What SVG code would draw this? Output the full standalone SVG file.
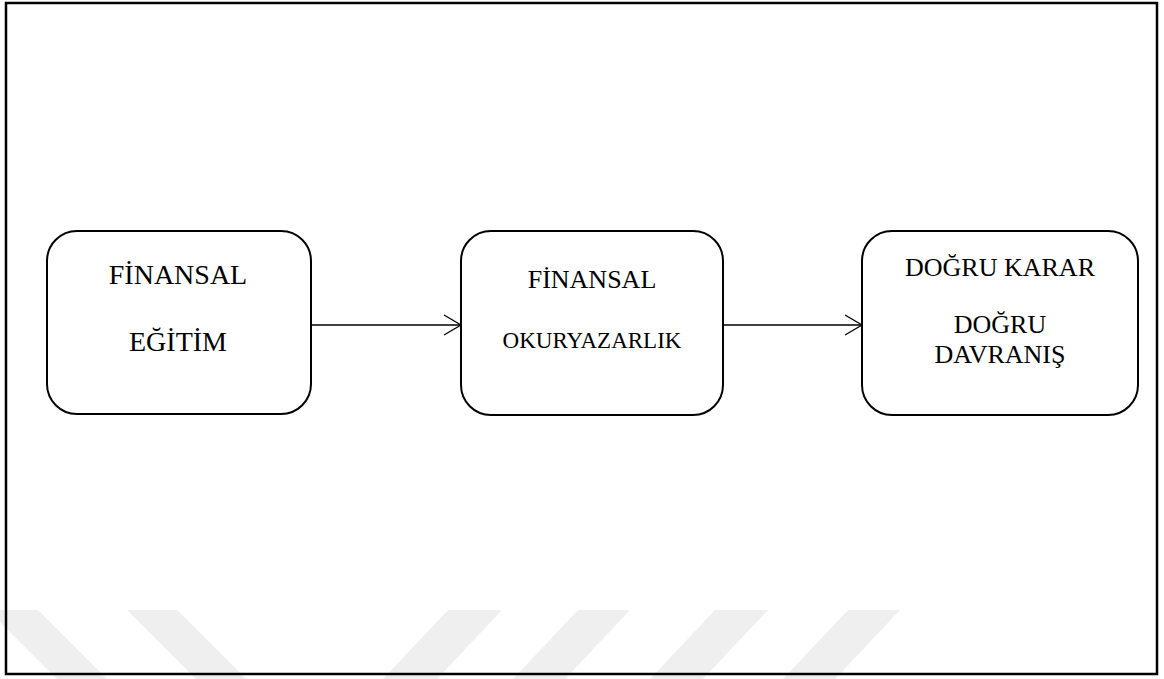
<svg xmlns="http://www.w3.org/2000/svg" width="1164" height="679" viewBox="0 0 1164 679">
  <defs>
    <style>
      .node { fill: #ffffff; stroke: #000000; stroke-width: 2; }
      .lbl { font-family: "Liberation Serif", "Times New Roman", serif; fill: #000000; text-anchor: middle; }
      .edge { stroke: #000000; stroke-width: 1.3; fill: none; }
      .wm { fill: #efefef; }
    </style>
    <marker id="open" markerWidth="20" markerHeight="22" refX="18" refY="11" orient="auto" markerUnits="userSpaceOnUse">
      <path d="M1,1 L18,11 L1,21" fill="none" stroke="#000" stroke-width="1.3"/>
    </marker>
  </defs>
  <rect x="0" y="0" width="1164" height="679" fill="#ffffff"/>
  <g id="watermark">
    <polygon class="wm" points="-12,610 38,610 107,679 57,679"/>
    <polygon class="wm" points="127,610 177,610 246,679 196,679"/>
    <polygon class="wm" points="448,610 502,610 437,679 383,679"/>
    <polygon class="wm" points="578,610 630,610 565,679 513,679"/>
    <polygon class="wm" points="715,610 768,610 703,679 650,679"/>
    <polygon class="wm" points="848,610 900,610 835,679 783,679"/>
  </g>
  <rect x="6" y="3" width="1151" height="671" fill="none" stroke="#000" stroke-width="2.5"/>
  <g id="connectors">
    <line class="edge" x1="311" y1="325" x2="461" y2="325" marker-end="url(#open)"/>
    <line class="edge" x1="723" y1="325" x2="862" y2="325" marker-end="url(#open)"/>
  </g>
  <g id="node-egitim">
    <rect class="node" x="47" y="231" width="264" height="183" rx="30" ry="30"/>
    <text class="lbl" x="178" y="284" font-size="28">FİNANSAL</text>
    <text class="lbl" x="178" y="351" font-size="28">EĞİTİM</text>
  </g>
  <g id="node-okuryazarlik">
    <rect class="node" x="461" y="231" width="262" height="184" rx="30" ry="30"/>
    <text class="lbl" x="592" y="288" font-size="26">FİNANSAL</text>
    <text class="lbl" x="592" y="348" font-size="23">OKURYAZARLIK</text>
  </g>
  <g id="node-karar">
    <rect class="node" x="862" y="231" width="276" height="184" rx="30" ry="30"/>
    <text class="lbl" x="1000" y="276" font-size="26">DOĞRU KARAR</text>
    <text class="lbl" x="1000" y="333" font-size="26">DOĞRU</text>
    <text class="lbl" x="1000" y="363" font-size="26">DAVRANIŞ</text>
  </g>
</svg>
